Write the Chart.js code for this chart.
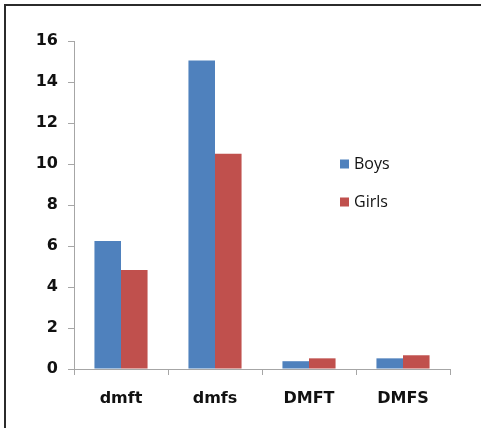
<!DOCTYPE html>
<html>
<head>
<meta charset="utf-8">
<script src="https://cdn.jsdelivr.net/npm/chart.js@4.4.1/dist/chart.umd.min.js"></script>
<style>
  html, body { margin: 0; padding: 0; background: #fff; overflow: hidden; }
  #wrap { width: 483px; height: 428px; position: relative; }
</style>
</head>
<body>
<div id="wrap"><canvas id="c" width="483" height="428"></canvas></div>
<script>
// Caries indices by sex
const categories = ['dmft', 'dmfs', 'DMFT', 'DMFS'];
const boys  = [6.25, 15.05, 0.38, 0.52];
const girls = [4.83, 10.5, 0.52, 0.67];
const yTicks = [0, 2, 4, 6, 8, 10, 12, 14, 16];

const BLUE = '#4F81BD';
const RED = '#C0504D';

// White page with the frame lines around the figure
const framePlugin = {
  id: 'frame',
  beforeDraw(chart) {
    const ctx = chart.ctx;
    ctx.save();
    ctx.fillStyle = '#ffffff';
    ctx.fillRect(0, 0, chart.width, chart.height);
    ctx.strokeStyle = '#2b2b2b';
    ctx.lineWidth = 2;
    ctx.beginPath();
    ctx.moveTo(5, chart.height);
    ctx.lineTo(5, 5);
    ctx.lineTo(chart.width - 2, 5);
    ctx.stroke();
    ctx.restore();
  }
};

// Legend drawn inside the plot area, built from the datasets
const innerLegend = {
  id: 'innerLegend',
  afterDatasetsDraw(chart) {
    const ctx = chart.ctx;
    ctx.save();
    ctx.font = '16px "Open Sans", sans-serif';
    ctx.textBaseline = 'middle';
    ctx.textAlign = 'left';
    const x0 = 340, rows = [164, 202];
    chart.data.datasets.forEach((ds, i) => {
      const y = rows[i];
      ctx.fillStyle = ds.backgroundColor;
      ctx.fillRect(x0, y - 4.5, 9, 9);
      ctx.fillStyle = '#111';
      ctx.fillText(ds.label, x0 + 14, y);
    });
    ctx.restore();
  }
};

new Chart(document.getElementById('c'), {
  type: 'bar',
  data: {
    labels: categories,
    datasets: [
      { label: 'Boys', data: boys, backgroundColor: BLUE, borderWidth: 0 },
      { label: 'Girls', data: girls, backgroundColor: RED, borderWidth: 0 }
    ]
  },
  options: {
    responsive: false,
    animation: false,
    devicePixelRatio: 1,
    categoryPercentage: 0.565,
    barPercentage: 1.0,
    layout: { padding: { top: 41, right: 33, bottom: 0, left: 0 } },
    plugins: {
      legend: { display: false },
      tooltip: { enabled: false }
    },
    scales: {
      x: {
        offset: true,
        grid: {
          offset: true,
          drawOnChartArea: false,
          drawTicks: true,
          tickLength: 6,
          color: '#a6a6a6'
        },
        border: { color: '#a6a6a6', width: 1 },
        ticks: {
          color: '#111',
          padding: 14,
          font: { family: '"DejaVu Sans", Verdana, sans-serif', size: 16, weight: 'bold' }
        },
        afterFit(scale) { scale.height = 59; }
      },
      y: {
        min: 0,
        max: 16,
        afterBuildTicks(scale) { scale.ticks = yTicks.map(v => ({ value: v })); },
        grid: {
          drawOnChartArea: false,
          drawTicks: true,
          tickLength: 6,
          color: '#a6a6a6'
        },
        border: { color: '#a6a6a6', width: 1 },
        ticks: {
          color: '#111',
          padding: 10,
          font: { family: '"DejaVu Sans", Verdana, sans-serif', size: 16, weight: 'bold' }
        },
        afterFit(scale) { scale.width = 74; }
      }
    }
  },
  plugins: [framePlugin, innerLegend]
});
</script>
</body>
</html>
